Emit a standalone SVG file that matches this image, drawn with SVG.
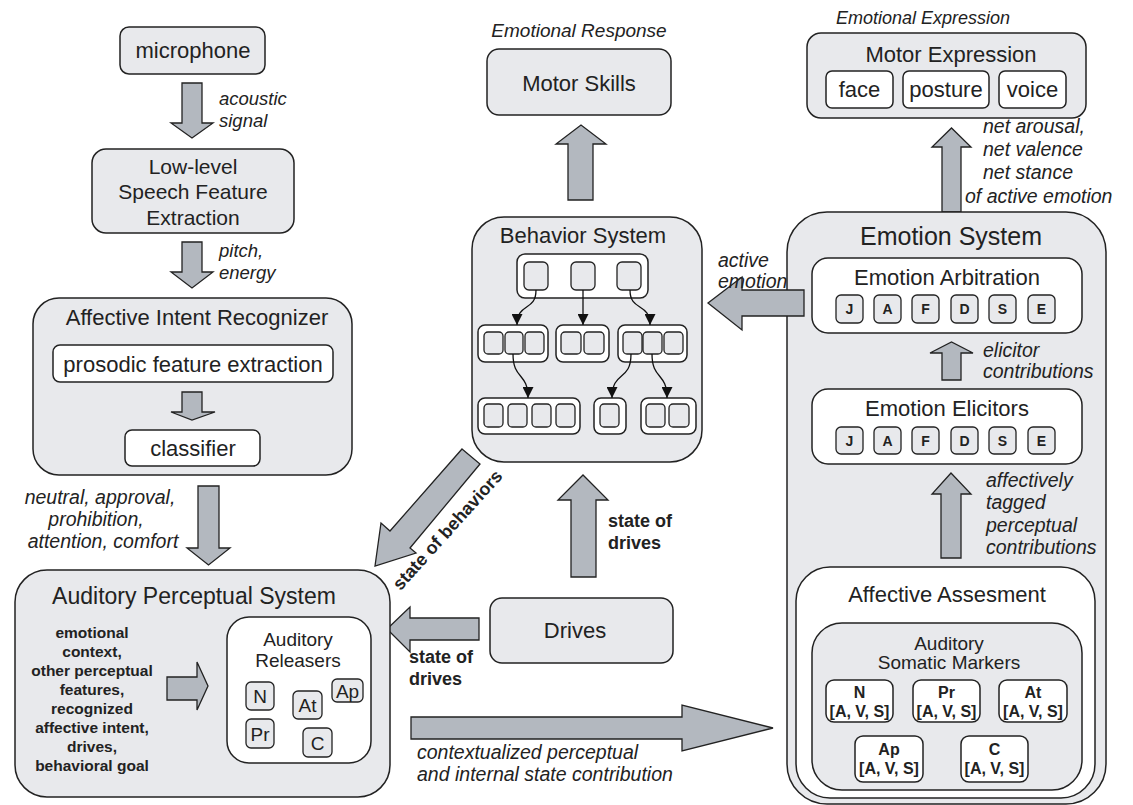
<svg xmlns="http://www.w3.org/2000/svg" width="1133" height="805" viewBox="0 0 1133 805">
<style>
.box{fill:#e8e9ec;stroke:#222;stroke-width:1.5}
.wbox{fill:#fff;stroke:#222;stroke-width:1.5}
.sq{fill:#e8e9ec;stroke:#222;stroke-width:1.3}
.arr{fill:#b3b8bf;stroke:#222;stroke-width:1.3;stroke-linejoin:miter}
.conn{fill:none;stroke:#111;stroke-width:1.3;marker-end:url(#ah)}
text{font-family:"Liberation Sans",Arial,sans-serif;fill:#222}
.c{text-anchor:middle}
.t22{font-size:22px}
.t19{font-size:19px}
.it{font-style:italic;font-size:19.5px}
.is{font-style:italic;font-size:18.5px}
.b16{font-weight:bold;font-size:15.5px}
.b18{font-weight:bold;font-size:18px}
.bs{font-weight:bold;font-size:14px}
.bm{font-weight:bold;font-size:16px}
</style>
<defs>
<marker id="ah" viewBox="0 0 10 10" refX="10" refY="5" markerWidth="11" markerHeight="11" markerUnits="userSpaceOnUse" orient="auto"><path d="M0,0 L10,5 L0,10 z" fill="#111"/></marker>
</defs>

<g id="connectors">
<polygon class="arr" points="182,83 202,83 202,123 213,123 192,138 171,123 182,123"/>
<polygon class="arr" points="182,242 202,242 202,272 213,272 192,288 171,272 182,272"/>
<polygon class="arr" points="198,486 219,486 219,548 230,548 208.5,565 187,548 198,548"/>
<polygon class="arr" points="568,200 593,200 593,144 606,144 581,125 556,144 568,144"/>
<polygon class="arr" points="942,212 961,212 961,147 971,147 951.5,128 932,147 942,147"/>
<polygon class="arr" points="571,577 596,577 596,500 608,500 583,475 558,500 571,500"/>
<polygon class="arr" points="479,618 479,640 410,640 410,652 387,629 410,607 410,618"/>
<polygon class="arr" points="462,449 480,464 410,548 416,553 375,566 381,523 390,531"/>
<polygon class="arr" points="411,717 682,717 682,705 773,728 682,751 682,739 411,739"/>
<text class="is" x="219" y="105">acoustic</text>
<text class="is" x="219" y="127">signal</text>
<text class="is" x="219" y="257">pitch,</text>
<text class="is" x="219" y="279">energy</text>
<text class="it c" x="100" y="504">neutral, approval,</text>
<text class="it c" x="96" y="526">prohibition,</text>
<text class="it c" x="103" y="548">attention, comfort</text>
<text class="it" x="983" y="133">net arousal,</text>
<text class="it" x="983" y="156">net valence</text>
<text class="it" x="983" y="179">net stance</text>
<text class="it" x="965" y="203">of active emotion</text>
<text class="b18" x="608" y="527">state of</text>
<text class="b18" x="608" y="549">drives</text>
<text class="b18" x="409" y="663">state of</text>
<text class="b18" x="409" y="685">drives</text>
<text class="b18 c" transform="translate(452,534) rotate(-48)">state of behaviors</text>
<text class="it" x="417" y="759">contextualized perceptual</text>
<text class="it" x="417" y="781">and internal state contribution</text>
</g>

<g id="microphone">
<rect class="box" x="120" y="27" width="145" height="47" rx="9"/>
<text class="t22 c" x="193" y="58">microphone</text>
</g>

<g id="low-level">
<rect class="box" x="92" y="149" width="202" height="84" rx="14"/>
<text class="c" x="193" y="174" style="font-size:21px">Low-level</text>
<text class="c" x="193" y="199" style="font-size:21px">Speech Feature</text>
<text class="c" x="193" y="225" style="font-size:21px">Extraction</text>
</g>

<g id="affective-intent-recognizer">
<rect class="box" x="33" y="298" width="319" height="177" rx="26"/>
<text class="t22 c" x="197" y="325">Affective Intent Recognizer</text>
<rect class="wbox" x="53" y="345" width="280" height="37" rx="7"/>
<text class="t22 c" x="193" y="372">prosodic feature extraction</text>
<polygon class="arr" points="182,392 202,392 202,412 215,412 192,420 171,412 182,412"/>
<rect class="wbox" x="125" y="430" width="135" height="36" rx="7"/>
<text class="t22 c" x="193" y="456">classifier</text>
</g>

<g id="auditory-perceptual-system">
<rect class="box" x="15" y="570" width="375" height="227" rx="32"/>
<text class="c" x="194" y="604" style="font-size:23px">Auditory Perceptual System</text>
<text class="b16 c" x="92" y="638">emotional</text>
<text class="b16 c" x="92" y="657">context,</text>
<text class="b16 c" x="92" y="676">other perceptual</text>
<text class="b16 c" x="92" y="695">features,</text>
<text class="b16 c" x="92" y="714">recognized</text>
<text class="b16 c" x="92" y="733">affective intent,</text>
<text class="b16 c" x="92" y="752">drives,</text>
<text class="b16 c" x="92" y="771">behavioral goal</text>
<polygon class="arr" points="167,677 197,677 197,662 208,686 197,710 197,700 167,700"/>
<rect class="wbox" x="227" y="617" width="144" height="146" rx="22"/>
<text class="t19 c" x="298" y="646">Auditory</text>
<text class="t19 c" x="298" y="667">Releasers</text>
<rect class="sq" x="246" y="682" width="28" height="28" rx="5"/>
<text class="t19 c" x="260" y="703">N</text>
<rect class="sq" x="246" y="719" width="28" height="29" rx="5"/>
<text class="t19 c" x="260" y="741">Pr</text>
<rect class="sq" x="293" y="691" width="29" height="28" rx="5"/>
<text class="t19 c" x="307.5" y="712">At</text>
<rect class="sq" x="332" y="679" width="31" height="23" rx="5"/>
<text class="t19 c" x="347.5" y="698">Ap</text>
<rect class="sq" x="303" y="728" width="29" height="29" rx="5"/>
<text class="t19 c" x="317.5" y="750">C</text>
</g>

<g id="motor-skills">
<text class="it c" x="579" y="37" style="font-size:19px">Emotional Response</text>
<rect class="box" x="487" y="49" width="184" height="66" rx="12"/>
<text class="t22 c" x="579" y="91">Motor Skills</text>
</g>

<g id="motor-expression">
<text class="it c" x="923" y="24" style="font-size:18px">Emotional Expression</text>
<rect class="box" x="807" y="33" width="279" height="85" rx="14"/>
<text class="t22 c" x="951" y="62">Motor Expression</text>
<rect class="wbox" x="826" y="71" width="67" height="37" rx="6"/>
<text class="t22 c" x="859.5" y="97">face</text>
<rect class="wbox" x="903" y="71" width="86" height="37" rx="6"/>
<text class="t22 c" x="946" y="97">posture</text>
<rect class="wbox" x="999" y="71" width="67" height="37" rx="6"/>
<text class="t22 c" x="1032.5" y="97">voice</text>
</g>

<g id="behavior-system">
<rect class="box" x="472" y="217" width="230" height="245" rx="32"/>
<text class="t22 c" x="583" y="243">Behavior System</text>
<rect class="wbox" x="517" y="254" width="131" height="44" rx="8"/>
<rect class="sq" x="524" y="262" width="24" height="28" rx="5"/>
<rect class="sq" x="571" y="262" width="24" height="28" rx="5"/>
<rect class="sq" x="617" y="262" width="24" height="28" rx="5"/>
<rect class="wbox" x="478" y="325" width="70" height="37" rx="7"/>
<rect class="sq" x="484" y="332" width="19" height="22" rx="4"/>
<rect class="sq" x="505" y="332" width="18" height="22" rx="4"/>
<rect class="sq" x="525" y="332" width="19" height="22" rx="4"/>
<rect class="wbox" x="556" y="325" width="53" height="37" rx="7"/>
<rect class="sq" x="561" y="332" width="20" height="22" rx="4"/>
<rect class="sq" x="584" y="332" width="20" height="22" rx="4"/>
<rect class="wbox" x="618" y="325" width="69" height="37" rx="7"/>
<rect class="sq" x="623" y="332" width="19" height="22" rx="4"/>
<rect class="sq" x="643" y="332" width="19" height="22" rx="4"/>
<rect class="sq" x="664" y="332" width="19" height="22" rx="4"/>
<rect class="wbox" x="478" y="398" width="102" height="36" rx="7"/>
<rect class="sq" x="484" y="404" width="19" height="23" rx="4"/>
<rect class="sq" x="508" y="404" width="19" height="23" rx="4"/>
<rect class="sq" x="532" y="404" width="19" height="23" rx="4"/>
<rect class="sq" x="556" y="404" width="19" height="23" rx="4"/>
<rect class="wbox" x="594" y="398" width="32" height="36" rx="7"/>
<rect class="sq" x="600" y="404" width="19" height="23" rx="4"/>
<rect class="wbox" x="641" y="398" width="55" height="36" rx="7"/>
<rect class="sq" x="646" y="404" width="19" height="23" rx="4"/>
<rect class="sq" x="669" y="404" width="20" height="23" rx="4"/>
<path class="conn" d="M536,290 C536,312 517,302 517,325"/>
<path class="conn" d="M583,290 L583,325"/>
<path class="conn" d="M630,290 C630,312 650,302 650,325"/>
<path class="conn" d="M513,354 C513,380 528,372 528,398"/>
<path class="conn" d="M631,354 C631,382 612,370 612,398"/>
<path class="conn" d="M652,354 C652,380 667,372 667,398"/>
</g>

<g id="drives">
<rect class="box" x="490" y="598" width="183" height="65" rx="12"/>
<text class="t22 c" x="575" y="638">Drives</text>
</g>

<g id="emotion-system">
<rect class="box" x="787" y="212" width="319" height="592" rx="40"/>
<text class="c" x="951" y="245" style="font-size:25px">Emotion System</text>
<rect class="wbox" x="812" y="258" width="270" height="75" rx="16"/>
<text class="t22 c" x="947" y="285">Emotion Arbitration</text>
<rect class="sq" x="836" y="295" width="27" height="28" rx="5"/><text class="bs c" x="849.5" y="314">J</text>
<rect class="sq" x="874" y="295" width="27" height="28" rx="5"/><text class="bs c" x="887.5" y="314">A</text>
<rect class="sq" x="912" y="295" width="27" height="28" rx="5"/><text class="bs c" x="925.5" y="314">F</text>
<rect class="sq" x="951" y="295" width="27" height="28" rx="5"/><text class="bs c" x="964.5" y="314">D</text>
<rect class="sq" x="989" y="295" width="27" height="28" rx="5"/><text class="bs c" x="1002.5" y="314">S</text>
<rect class="sq" x="1028" y="295" width="27" height="28" rx="5"/><text class="bs c" x="1041.5" y="314">E</text>
<polygon class="arr" points="942,380 961,380 961,353 973,353 951.5,342 930,353 942,353"/>
<text class="it" x="983" y="357">elicitor</text>
<text class="it" x="983" y="378">contributions</text>
<rect class="wbox" x="812" y="389" width="270" height="75" rx="16"/>
<text class="t22 c" x="947" y="416">Emotion Elicitors</text>
<rect class="sq" x="836" y="427" width="27" height="27" rx="5"/><text class="bs c" x="849.5" y="446">J</text>
<rect class="sq" x="874" y="427" width="27" height="27" rx="5"/><text class="bs c" x="887.5" y="446">A</text>
<rect class="sq" x="912" y="427" width="27" height="27" rx="5"/><text class="bs c" x="925.5" y="446">F</text>
<rect class="sq" x="951" y="427" width="27" height="27" rx="5"/><text class="bs c" x="964.5" y="446">D</text>
<rect class="sq" x="989" y="427" width="27" height="27" rx="5"/><text class="bs c" x="1002.5" y="446">S</text>
<rect class="sq" x="1028" y="427" width="27" height="27" rx="5"/><text class="bs c" x="1041.5" y="446">E</text>
<polygon class="arr" points="941,558 961,558 961,494 971,494 951,473 932,494 941,494"/>
<text class="it" x="986" y="487">affectively</text>
<text class="it" x="986" y="509">tagged</text>
<text class="it" x="986" y="532">perceptual</text>
<text class="it" x="986" y="554">contributions</text>
<rect class="wbox" x="796" y="567" width="299" height="231" rx="34"/>
<text class="t22 c" x="947" y="602">Affective Assesment</text>
<rect class="box" x="812" y="623" width="270" height="167" rx="30"/>
<text class="t19 c" x="949" y="650">Auditory</text>
<text class="t19 c" x="949" y="669">Somatic Markers</text>
<rect class="wbox" x="826" y="680" width="67" height="42" rx="8"/>
<text class="bm c" x="859.5" y="698">N</text><text class="bm c" x="859.5" y="717">[A, V, S]</text>
<rect class="wbox" x="913" y="680" width="67" height="42" rx="8"/>
<text class="bm c" x="946.5" y="698">Pr</text><text class="bm c" x="946.5" y="717">[A, V, S]</text>
<rect class="wbox" x="999" y="680" width="68" height="42" rx="8"/>
<text class="bm c" x="1033" y="698">At</text><text class="bm c" x="1033" y="717">[A, V, S]</text>
<rect class="wbox" x="855" y="736" width="68" height="46" rx="8"/>
<text class="bm c" x="889" y="755">Ap</text><text class="bm c" x="889" y="774">[A, V, S]</text>
<rect class="wbox" x="961" y="736" width="67" height="46" rx="8"/>
<text class="bm c" x="994.5" y="755">C</text><text class="bm c" x="994.5" y="774">[A, V, S]</text>
</g>

<g id="active-emotion-arrow">
<polygon class="arr" points="804,290 804,316 742,316 742,330 708,303 742,277 742,290"/>
<text class="it" x="718" y="267">active</text>
<text class="it" x="718" y="288">emotion</text>
</g>
</svg>
